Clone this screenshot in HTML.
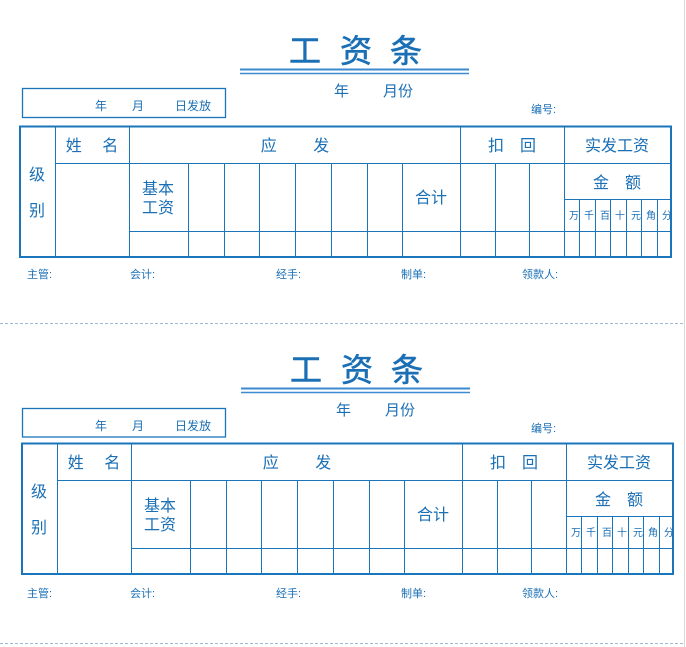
<!DOCTYPE html>
<html><head><meta charset="utf-8"><style>
html,body{margin:0;padding:0;background:#fff;}
svg{display:block;font-family:"Liberation Sans","Noto Sans CJK SC",sans-serif;}
</style></head><body>
<svg width="686" height="647" viewBox="0 0 686 647" xmlns="http://www.w3.org/2000/svg">
<line x1="684.5" y1="0" x2="684.5" y2="647" stroke="#d8d8d8" stroke-width="1"/>
<line x1="0" y1="323.5" x2="684" y2="323.5" stroke="#9bbbd8" stroke-width="1" stroke-dasharray="3,2"/>
<line x1="0" y1="643.5" x2="684" y2="643.5" stroke="#9bbbd8" stroke-width="1" stroke-dasharray="3,2"/>

<!-- BLOCK 1 -->
<g>
<g font-size="32" fill="#1a6fb5" stroke="#1a6fb5" stroke-width="0.6" text-anchor="middle">
<text x="305" y="62">工</text><text x="356" y="62">资</text><text x="406" y="62">条</text>
</g>
<line x1="240" y1="69.5" x2="469" y2="69.5" stroke="#3c8ad0" stroke-width="2"/>
<line x1="240" y1="73.5" x2="469" y2="73.5" stroke="#3c8ad0" stroke-width="1.5"/>
<text x="334" y="96" font-size="15" fill="#1a6fb5">年</text>
<text x="383" y="96" font-size="15" fill="#1a6fb5">月份</text>
<rect x="22.5" y="88.5" width="203" height="29" fill="none" stroke="#1a75bb" stroke-width="1.3"/>
<g font-size="12" fill="#1a6fb5"><text x="95" y="110">年</text><text x="132" y="110">月</text><text x="175" y="110">日发放</text></g>
<text x="531" y="113" font-size="11" fill="#1a6fb5">编号:</text>
<g stroke="#1a75bb" stroke-width="1" fill="none">
<rect x="20" y="126.5" width="651" height="130.5" stroke-width="2"/>
<line x1="55.5" y1="126" x2="55.5" y2="257"/>
<line x1="129.5" y1="126" x2="129.5" y2="257"/>
<line x1="460.5" y1="126" x2="460.5" y2="257"/>
<line x1="564.5" y1="126" x2="564.5" y2="257"/>
<line x1="55" y1="163.5" x2="671" y2="163.5"/>
<line x1="129" y1="231.5" x2="671" y2="231.5"/>
<line x1="564" y1="199.5" x2="671" y2="199.5"/>
<line x1="188.5" y1="163" x2="188.5" y2="257"/>
<line x1="224.5" y1="163" x2="224.5" y2="257"/>
<line x1="259.5" y1="163" x2="259.5" y2="257"/>
<line x1="295.5" y1="163" x2="295.5" y2="257"/>
<line x1="331.5" y1="163" x2="331.5" y2="257"/>
<line x1="367.5" y1="163" x2="367.5" y2="257"/>
<line x1="402.5" y1="163" x2="402.5" y2="257"/>
<line x1="495.5" y1="163" x2="495.5" y2="257"/>
<line x1="529.5" y1="163" x2="529.5" y2="257"/>
<line x1="579.5" y1="199" x2="579.5" y2="257"/>
<line x1="595.5" y1="199" x2="595.5" y2="257"/>
<line x1="610.5" y1="199" x2="610.5" y2="257"/>
<line x1="626.5" y1="199" x2="626.5" y2="257"/>
<line x1="641.5" y1="199" x2="641.5" y2="257"/>
<line x1="657.5" y1="199" x2="657.5" y2="257"/>
</g>
<g font-size="16" fill="#1a6fb5" text-anchor="middle">
<text x="37" y="180">级</text>
<text x="37" y="216">别</text>
<text x="92" y="151">姓　 名</text>
<text x="295" y="151">应　　 发</text>
<text x="512" y="151">扣　回</text>
<text x="617" y="151">实发工资</text>
<text x="617" y="188">金　额</text>
<text x="158" y="194">基本</text>
<text x="158" y="213">工资</text>
<text x="431" y="203">合计</text>
</g>
<g font-size="10" fill="#1a6fb5" text-anchor="middle">
<text x="574" y="219">万</text><text x="589" y="219">千</text><text x="605" y="219">百</text><text x="620" y="219">十</text><text x="636" y="219">元</text><text x="651" y="219">角</text><text x="667" y="219">分</text>
</g>
<g font-size="11" fill="#1a6fb5">
<text x="27" y="278">主管:</text><text x="130" y="278">会计:</text><text x="276" y="278">经手:</text><text x="401" y="278">制单:</text><text x="522" y="278">领款人:</text>
</g>
</g>

<!-- BLOCK 2 -->
<g>
<g font-size="32" fill="#1a6fb5" stroke="#1a6fb5" stroke-width="0.6" text-anchor="middle">
<text x="306" y="381">工</text><text x="357" y="381">资</text><text x="407" y="381">条</text>
</g>
<line x1="241" y1="388.5" x2="470" y2="388.5" stroke="#3c8ad0" stroke-width="2"/>
<line x1="241" y1="392.5" x2="470" y2="392.5" stroke="#3c8ad0" stroke-width="1.5"/>
<text x="336" y="415" font-size="15" fill="#1a6fb5">年</text>
<text x="385" y="415" font-size="15" fill="#1a6fb5">月份</text>
<rect x="22.5" y="408.5" width="203" height="28.5" fill="none" stroke="#1a75bb" stroke-width="1.3"/>
<g font-size="12" fill="#1a6fb5"><text x="95" y="430">年</text><text x="132" y="430">月</text><text x="175" y="430">日发放</text></g>
<text x="531" y="432" font-size="11" fill="#1a6fb5">编号:</text>
<g stroke="#1a75bb" stroke-width="1" fill="none">
<rect x="22" y="443.5" width="651" height="130.5" stroke-width="2"/>
<line x1="57.5" y1="443" x2="57.5" y2="574"/>
<line x1="131.5" y1="443" x2="131.5" y2="574"/>
<line x1="462.5" y1="443" x2="462.5" y2="574"/>
<line x1="566.5" y1="443" x2="566.5" y2="574"/>
<line x1="57" y1="480.5" x2="673" y2="480.5"/>
<line x1="131" y1="548.5" x2="673" y2="548.5"/>
<line x1="566" y1="516.5" x2="673" y2="516.5"/>
<line x1="190.5" y1="480" x2="190.5" y2="574"/>
<line x1="226.5" y1="480" x2="226.5" y2="574"/>
<line x1="261.5" y1="480" x2="261.5" y2="574"/>
<line x1="297.5" y1="480" x2="297.5" y2="574"/>
<line x1="333.5" y1="480" x2="333.5" y2="574"/>
<line x1="369.5" y1="480" x2="369.5" y2="574"/>
<line x1="404.5" y1="480" x2="404.5" y2="574"/>
<line x1="497.5" y1="480" x2="497.5" y2="574"/>
<line x1="531.5" y1="480" x2="531.5" y2="574"/>
<line x1="581.5" y1="516" x2="581.5" y2="574"/>
<line x1="597.5" y1="516" x2="597.5" y2="574"/>
<line x1="612.5" y1="516" x2="612.5" y2="574"/>
<line x1="628.5" y1="516" x2="628.5" y2="574"/>
<line x1="643.5" y1="516" x2="643.5" y2="574"/>
<line x1="659.5" y1="516" x2="659.5" y2="574"/>
</g>
<g font-size="16" fill="#1a6fb5" text-anchor="middle">
<text x="39" y="497">级</text>
<text x="39" y="533">别</text>
<text x="94" y="468">姓　 名</text>
<text x="297" y="468">应　　 发</text>
<text x="514" y="468">扣　回</text>
<text x="619" y="468">实发工资</text>
<text x="619" y="505">金　额</text>
<text x="160" y="511">基本</text>
<text x="160" y="530">工资</text>
<text x="433" y="520">合计</text>
</g>
<g font-size="10" fill="#1a6fb5" text-anchor="middle">
<text x="576" y="536">万</text><text x="591" y="536">千</text><text x="607" y="536">百</text><text x="622" y="536">十</text><text x="638" y="536">元</text><text x="653" y="536">角</text><text x="669" y="536">分</text>
</g>
<g font-size="11" fill="#1a6fb5">
<text x="27" y="597">主管:</text><text x="130" y="597">会计:</text><text x="276" y="597">经手:</text><text x="401" y="597">制单:</text><text x="522" y="597">领款人:</text>
</g>
</g>
</svg>
</body></html>
